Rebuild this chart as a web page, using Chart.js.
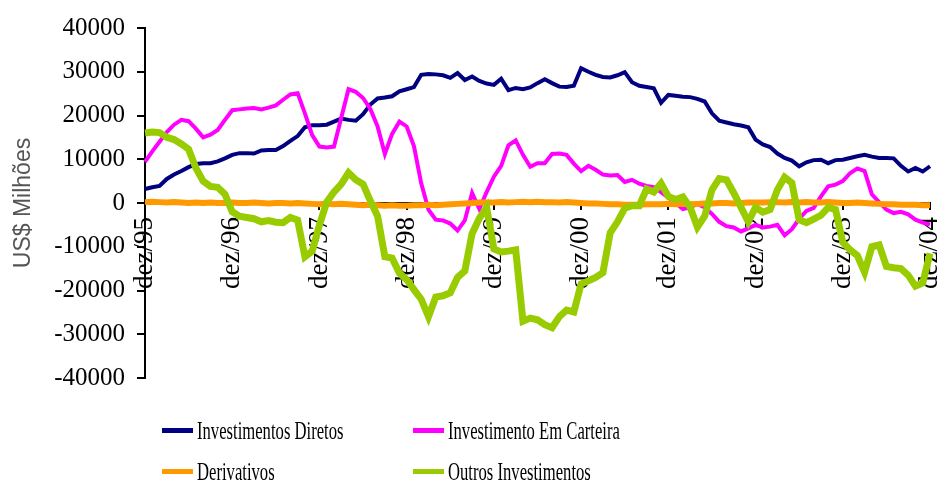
<!DOCTYPE html>
<html>
<head>
<meta charset="utf-8">
<script src="https://cdn.jsdelivr.net/npm/chart.js@4.4.1/dist/chart.umd.min.js"></script>
<style>
  html, body { margin: 0; padding: 0; background: #fff; }
  #wrap { position: relative; width: 938px; height: 481px; overflow: hidden; }
  #c { position: absolute; left: 0; top: 0; }
  .lg { position: absolute; height: 30px; line-height: 30px; white-space: nowrap;
        font-family: 'Liberation Serif', 'Times New Roman', serif; font-size: 26px; color: #000; }
  .sw { position: absolute; width: 31px; height: 5px; }
  .tx { position: absolute; transform: scaleX(0.64); transform-origin: left center; }
</style>
</head>
<body>
<div id="wrap">
  <canvas id="c" width="938" height="481"></canvas>
  <div id="legend"></div>
</div>
<script>
// ---- data (US$ milhões), monthly dez/95 .. dez/04 ----
const monthNames = ['jan','fev','mar','abr','mai','jun','jul','ago','set','out','nov','dez'];
const yearLabels = ['95','96','97','98','99','00','01','02','03','04'];

const investimentosDiretos = [
  3200,3600,3900,5500,6500,7300,8200,8900,9100,9100,9500,10200,
  11000,11400,11400,11300,12000,12100,12100,13000,14200,15300,17300,17800,
  17800,17900,18600,19300,19000,18800,20300,22500,23900,24100,24400,25500,
  26000,26500,29300,29500,29400,29200,28600,29700,28100,28900,27900,27300,
  27000,28400,25800,26300,26000,26400,27400,28300,27400,26600,26500,26800,
  30800,30000,29300,28800,28700,29200,29900,27600,26800,26500,26200,22900,
  24700,24500,24300,24200,23800,23200,20500,18800,18400,18000,17700,17300,
  14500,13400,12800,11300,10300,9700,8400,9300,9800,9900,9100,9800,
  9900,10300,10700,11000,10600,10300,10300,10200,8500,7200,8000,7200,8400
];

const investimentoEmCarteira = [
  9400,11800,14000,16200,17900,19000,18700,17000,15000,15600,16700,19000,
  21200,21400,21600,21700,21400,21800,22300,23600,24800,25100,20500,15500,
  12900,12700,12900,19500,26000,25400,24000,21500,17500,11200,15800,18600,
  17500,13000,4500,-1500,-3800,-4000,-4700,-6300,-4000,2300,-1400,2500,
  6000,8500,13200,14300,11000,8300,9100,9100,11200,11300,11000,9000,
  7300,8500,7600,6500,6300,6400,4800,5300,4400,3900,3600,2500,
  1200,0,-1400,-1000,-200,-1000,-2500,-4300,-5300,-5600,-6500,-5800,
  -5000,-5600,-5400,-5000,-7400,-6000,-3600,-1800,-1100,1500,3800,4200,
  5000,6800,7900,7300,2000,200,-1500,-2300,-2000,-2600,-3800,-4500,-4900
];

const derivativos = [
  200,300,200,100,200,100,0,100,0,100,0,0,
  100,0,0,100,0,-100,0,0,-100,0,-100,-200,
  -300,-200,-300,-200,-300,-400,-500,-400,-500,-600,-500,-600,
  -600,-500,-500,-400,-500,-400,-300,-200,-100,0,100,100,
  100,200,100,200,300,200,300,200,200,100,200,100,
  0,-100,-100,-200,-300,-300,-400,-400,-400,-300,-300,-300,
  -200,-300,-200,-300,-200,-100,-100,0,0,-100,0,100,
  100,100,200,200,100,200,100,200,100,100,200,100,
  0,0,100,0,-100,-200,-300,-300,-400,-400,-400,-500,-500
];

const outrosInvestimentos = [
  16000,16200,16100,15000,14500,13500,12300,8000,5000,3800,3600,2000,
  -2000,-3000,-3300,-3600,-4300,-4000,-4400,-4500,-3300,-3900,-12300,-11000,
  -5000,200,2500,4300,6900,5300,4300,500,-3000,-12300,-12600,-16000,
  -17500,-19800,-22000,-26000,-21500,-21200,-20500,-17000,-15500,-7000,-3500,-1000,
  -10500,-11200,-11000,-10700,-27000,-26300,-26700,-27800,-28500,-26000,-24500,-24900,
  -18500,-17800,-17000,-15900,-6800,-4300,-1200,-600,-600,3200,2500,4500,
  1500,800,1400,-1000,-5500,-3000,3000,5600,5300,2300,-1000,-4300,
  -1000,-2100,-1500,3000,5900,4600,-3800,-4500,-3700,-2800,-1000,-1500,
  -9000,-10700,-12000,-15800,-10000,-9600,-14500,-14800,-15000,-16500,-19000,-18300,-11500
];

const yTicks = { min: -40000, max: 40000, step: 10000 };
const yTitle = 'US$ Milhões';

// category labels: dez/95, jan/96, ..., dez/04
const categories = ['dez/' + yearLabels[0]];
for (let y = 1; y < yearLabels.length; y++) {
  for (let m = 0; m < 12; m++) categories.push(monthNames[m] + '/' + yearLabels[y]);
}

const seriesDefs = [
  { label: 'Investimentos Diretos', data: investimentosDiretos, color: '#000080', width: 4, order: 4 },
  { label: 'Investimento Em Carteira', data: investimentoEmCarteira, color: '#FF00FF', width: 4, order: 3 },
  { label: 'Derivativos', data: derivativos, color: '#FF9900', width: 6, order: 2 },
  { label: 'Outros Investimentos', data: outrosInvestimentos, color: '#99CC00', width: 7, order: 1 }
];

const serif = "'Liberation Serif', 'Times New Roman', serif";

const chart = new Chart(document.getElementById('c'), {
  type: 'line',
  data: {
    labels: categories,
    datasets: seriesDefs.map(s => ({
      label: s.label, data: s.data, borderColor: s.color, backgroundColor: s.color,
      borderWidth: s.width, pointRadius: 0, tension: 0, fill: false, order: s.order,
      borderJoinStyle: 'miter', borderCapStyle: 'butt'
    }))
  },
  options: {
    responsive: false,
    animation: false,
    events: [],
    layout: { padding: { top: 28, bottom: 103, left: 0, right: 8 } },
    plugins: { legend: { display: false }, tooltip: { enabled: false } },
    scales: {
      x: {
        type: 'category',
        position: { y: 0 },
        offset: false,
        grid: { drawOnChartArea: false, drawTicks: true, tickLength: 6, color: '#000', lineWidth: 2 },
        border: { display: true, color: '#000', width: 2 },
        ticks: {
          autoSkip: false, maxRotation: 90, minRotation: 90, padding: 8,
          color: '#000', font: { family: serif, size: 27 },
          callback: function(val, idx) { return idx % 12 === 0 ? this.getLabelForValue(val) : null; }
        },
        afterFit: (s) => { s.height = 0; s.paddingLeft = 0; s.paddingRight = 0; }
      },
      y: {
        min: yTicks.min, max: yTicks.max,
        grid: { drawOnChartArea: false, drawTicks: true, tickLength: 8, color: '#000', lineWidth: 2 },
        border: { display: true, color: '#000', width: 2 },
        ticks: { stepSize: yTicks.step, padding: 12, color: '#000', font: { family: serif, size: 25 },
                 callback: (v) => String(v) },
        title: { display: true, text: yTitle, color: '#555', padding: { top: 10, bottom: 0 },
                 font: { family: "'Liberation Sans', Arial, sans-serif", size: 23 } },
        afterFit: (s) => { s.width = 145; }
      }
    }
  }
});

// HTML legend built from chart datasets
const legendPos = [
  { sx: 162, tx: 197, y: 431 },
  { sx: 413, tx: 448, y: 431 },
  { sx: 162, tx: 197, y: 472 },
  { sx: 413, tx: 448, y: 472 }
];
const lg = document.getElementById('legend');
chart.data.datasets.forEach((ds, i) => {
  const p = legendPos[i];
  const sw = document.createElement('div');
  sw.className = 'sw';
  sw.style.left = p.sx + 'px'; sw.style.top = (p.y - 3) + 'px'; sw.style.background = ds.borderColor;
  lg.appendChild(sw);
  const t = document.createElement('div');
  t.className = 'lg tx';
  t.style.left = p.tx + 'px'; t.style.top = (p.y - 15) + 'px';
  t.textContent = ds.label;
  lg.appendChild(t);
});
</script>
</body>
</html>
